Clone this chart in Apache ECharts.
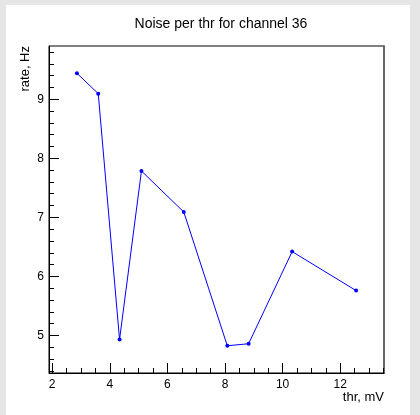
<!DOCTYPE html>
<html>
<head>
<meta charset="utf-8">
<script src="https://cdn.jsdelivr.net/npm/echarts@6/dist/echarts.min.js"></script>
<style>
  html, body { margin: 0; padding: 0; background: #fff; }
  #chart { width: 420px; height: 415px; }
</style>
</head>
<body>
<div id="chart"></div>
<script>
// Threshold scan for one channel: threshold (mV) vs. noise rate (Hz)
const thr  = [2.86, 3.60, 4.34, 5.10, 6.57, 8.08, 8.82, 10.33, 12.55];
const rate = [9.44, 9.095, 4.93, 7.785, 7.09, 4.826, 4.86, 6.42, 5.76];

// Labelled (major) tick values
const xMajorTicks = [2, 4, 6, 8, 10, 12];
const yMajorTicks = [5, 6, 7, 8, 9];

// Axis ranges padded by 10% of the data span on each side
function paddedRange(v) {
  const lo = Math.min.apply(null, v), hi = Math.max.apply(null, v);
  const pad = 0.1 * (hi - lo);
  return [lo - pad, hi + pad];
}
const [xMin, xMax] = paddedRange(thr);
const [yMin, yMax] = paddedRange(rate);

// Minor ticks: every 0.5 on x, every 0.2 on y, inside the axis range
function minorTicks(lo, hi, step, majors) {
  const out = [];
  const start = Math.ceil(lo / step - 1e-9);
  const end = Math.floor(hi / step + 1e-9);
  for (let k = start; k <= end; k++) {
    const v = Math.round(k * step * 1000) / 1000;
    if (v > lo && v < hi && majors.indexOf(v) < 0) out.push(v);
  }
  return out;
}
const xMinorTicks = minorTicks(xMin, xMax, 0.5, xMajorTicks);
const yMinorTicks = minorTicks(yMin, yMax, 0.2, yMajorTicks);

const FONT = 'Liberation Sans, Arial, Helvetica, sans-serif';

const chart = echarts.init(document.getElementById('chart'), null, { renderer: 'canvas' });

const hiddenAxisParts = {
  axisLine: { show: false },
  axisLabel: { show: false },
  splitLine: { show: false }
};

chart.setOption({
  animation: false,
  backgroundColor: '#e6e6e6',
  title: {
    text: 'Noise per thr for channel 36',
    left: 216,
    top: 12,
    textAlign: 'center',
    textStyle: { fontFamily: FONT, fontSize: 14, fontWeight: 'normal', color: '#000' }
  },
  graphic: [
    {
      // white canvas pad
      type: 'rect', z: -10, silent: true,
      shape: { x: 6, y: 5, width: 404, height: 410 },
      style: { fill: '#ffffff' }
    },
    {
      type: 'text', x: 25, y: 46, rotation: Math.PI / 2,
      style: { text: 'rate, Hz', align: 'right', verticalAlign: 'middle',
               font: '13px ' + FONT, fill: '#000' }
    },
    {
      type: 'text', x: 384, y: 397,
      style: { text: 'thr, mV', align: 'right', verticalAlign: 'middle',
               font: '13px ' + FONT, fill: '#000' }
    }
  ],
  grid: {
    left: 49, top: 46, width: 335, height: 327,
    show: true, borderColor: '#000', borderWidth: 1,
    backgroundColor: 'transparent'
  },
  xAxis: [
    {
      type: 'value', min: xMin, max: xMax, position: 'bottom',
      axisLine: { show: true, lineStyle: { color: '#000', width: 1 } },
      axisTick: { show: true, inside: true, length: 10, customValues: xMajorTicks,
                  lineStyle: { color: '#000', width: 1 } },
      axisLabel: { show: true, customValues: xMajorTicks, margin: 6,
                   fontFamily: FONT, fontSize: 12, color: '#000' },
      splitLine: { show: false }
    },
    Object.assign({
      type: 'value', min: xMin, max: xMax, position: 'bottom',
      axisTick: { show: true, inside: true, length: 5, customValues: xMinorTicks,
                  lineStyle: { color: '#000', width: 1 } }
    }, hiddenAxisParts)
  ],
  yAxis: [
    {
      type: 'value', min: yMin, max: yMax, position: 'left',
      axisLine: { show: true, lineStyle: { color: '#000', width: 1 } },
      axisTick: { show: true, inside: true, length: 10, customValues: yMajorTicks,
                  lineStyle: { color: '#000', width: 1 } },
      axisLabel: { show: true, customValues: yMajorTicks, margin: 5,
                   fontFamily: FONT, fontSize: 12, color: '#000' },
      splitLine: { show: false }
    },
    Object.assign({
      type: 'value', min: yMin, max: yMax, position: 'left',
      axisTick: { show: true, inside: true, length: 5, customValues: yMinorTicks,
                  lineStyle: { color: '#000', width: 1 } }
    }, hiddenAxisParts),
    {
      // right edge of the frame
      type: 'value', min: yMin, max: yMax, position: 'right',
      axisLine: { show: true, lineStyle: { color: '#666', width: 2 } },
      axisTick: { show: false },
      axisLabel: { show: false },
      splitLine: { show: false }
    }
  ],
  series: [
    {
      type: 'line',
      xAxisIndex: 0,
      yAxisIndex: 0,
      data: thr.map((x, i) => [x, rate[i]]),
      lineStyle: { color: '#0000ff', width: 1 },
      itemStyle: { color: '#0000ff' },
      symbol: 'circle',
      symbolSize: 4,
      showSymbol: true
    }
  ]
});
</script>
</body>
</html>
